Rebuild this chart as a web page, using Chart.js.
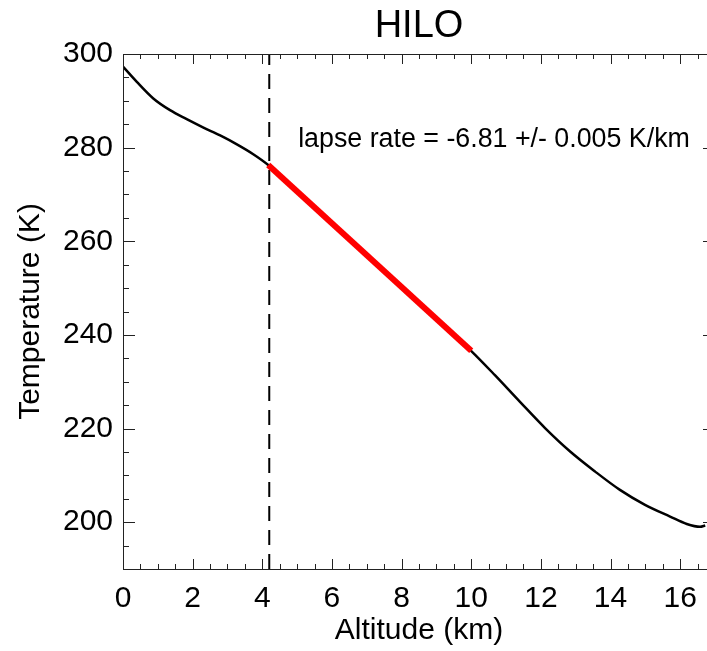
<!DOCTYPE html>
<html lang="en">
<head>
  <meta charset="UTF-8">
  <title>HILO</title>
  <script src="https://cdn.jsdelivr.net/npm/chart.js"></script>
  <style>
    html, body { margin: 0; padding: 0; background: #fff; overflow: hidden; }
    #wrap { width: 707px; height: 651px; overflow: hidden; }
  </style>
</head>
<body>
  <div id="wrap"><canvas id="hiloChart" width="730" height="651"></canvas></div>

  <script>
    // temperature profile
    const altitude = [0, 0.39, 0.87, 1.35, 1.83, 2.31, 2.79, 3.27, 3.74, 4.17, 5, 6, 7, 8, 9, 10.01,
                      10.68, 11.40, 12.12, 12.84, 13.56, 14.27, 14.99, 15.71, 16.19, 16.57, 16.72];
    const temperature = [297.3, 294.1, 290.5, 288.0, 286.1, 284.3, 282.6, 280.7, 278.6, 276.3,
                         270.65, 263.8, 257.0, 250.2, 243.4, 236.5, 231.4, 225.7, 220.1, 215.1,
                         210.8, 206.9, 203.7, 201.2, 199.6, 199.0, 199.3];

    // linear fit segment
    const fitAltitude = [4.17, 10.0];
    const fitTemperature = [276.3, 236.6];

    // vertical dashed marker
    const markerAltitude = 4.2;

    const xTicks = [0, 2, 4, 6, 8, 10, 12, 14, 16];
    const yTicks = [200, 220, 240, 260, 280, 300];

    const lapseText = 'lapse rate = -6.81 +/- 0.005 K/km';
    const lapseTextAt = [5.03, 280.1];

    const fontFamily = '"Liberation Sans", Arial, Helvetica, sans-serif';

    // box around the plot with IDL style inward ticks, plus the fit label
    const framePlugin = {
      id: 'frame',
      afterDatasetsDraw(chart) {
        const { ctx, chartArea: a, scales: { x, y } } = chart;
        ctx.save();
        ctx.strokeStyle = '#222';
        ctx.lineWidth = 1;
        ctx.strokeRect(Math.round(a.left) + 0.5, Math.round(a.top) + 0.5,
                       Math.round(a.right - a.left), Math.round(a.bottom - a.top));
        ctx.beginPath();
        for (let v = x.min; v <= x.max + 1e-9; v += 0.5) {
          const px = Math.round(x.getPixelForValue(v)) + 0.5;
          const len = v % 2 === 0 ? 10 : 5;
          ctx.moveTo(px, a.bottom); ctx.lineTo(px, a.bottom - len);
          ctx.moveTo(px, a.top); ctx.lineTo(px, a.top + len);
        }
        for (let v = y.min; v <= y.max + 1e-9; v += 5) {
          const py = Math.round(y.getPixelForValue(v)) + 0.5;
          const len = v % 20 === 0 ? 12 : 6;
          ctx.moveTo(a.left, py); ctx.lineTo(a.left + len, py);
          ctx.moveTo(a.right, py); ctx.lineTo(a.right - len, py);
        }
        ctx.stroke();

        ctx.font = '26.8px ' + fontFamily;
        ctx.fillStyle = '#000';
        ctx.textBaseline = 'alphabetic';
        ctx.textAlign = 'left';
        ctx.fillText(lapseText, x.getPixelForValue(lapseTextAt[0]), y.getPixelForValue(lapseTextAt[1]));
        ctx.restore();
      }
    };

    const profile = altitude.map((a, i) => ({ x: a, y: temperature[i] }));
    const fit = fitAltitude.map((a, i) => ({ x: a, y: fitTemperature[i] }));

    const ctx = document.getElementById('hiloChart').getContext('2d');
    new Chart(ctx, {
      type: 'line',
      data: {
        datasets: [
          {
            data: fit,
            borderColor: '#ff0000',
            borderWidth: 6,
            pointRadius: 0,
            order: 0
          },
          {
            data: [{ x: markerAltitude, y: 190 }, { x: markerAltitude, y: 300 }],
            borderColor: '#000',
            borderWidth: 2,
            borderDash: [15, 9],
            pointRadius: 0,
            order: 1
          },
          {
            data: profile,
            borderColor: '#000',
            borderWidth: 2.5,
            pointRadius: 0,
            cubicInterpolationMode: 'monotone',
            order: 2
          }
        ]
      },
      options: {
        responsive: false,
        animation: false,
        layout: { padding: { top: 0, right: 15, bottom: 0, left: 0 } },
        plugins: {
          legend: { display: false },
          tooltip: { enabled: false },
          title: {
            display: true,
            text: 'HILO',
            fullSize: false,
            color: '#000',
            font: { family: fontFamily, size: 38, weight: 'normal' },
            padding: { top: 4, bottom: 4.4 }
          }
        },
        scales: {
          x: {
            type: 'linear',
            min: 0,
            max: 17,
            grid: { display: false, drawTicks: false },
            border: { display: false },
            afterBuildTicks: (scale) => { scale.ticks = xTicks.map(v => ({ value: v })); },
            afterFit: (scale) => { scale.height = 82; },
            ticks: {
              color: '#000',
              padding: 12,
              maxRotation: 0,
              font: { family: fontFamily, size: 30 }
            },
            title: {
              display: true,
              text: 'Altitude (km)',
              color: '#000',
              font: { family: fontFamily, size: 30 },
              padding: { top: 0, bottom: 2 }
            }
          },
          y: {
            type: 'linear',
            min: 190,
            max: 300,
            grid: { display: false, drawTicks: false },
            border: { display: false },
            afterBuildTicks: (scale) => { scale.ticks = yTicks.map(v => ({ value: v })); },
            afterFit: (scale) => { scale.width = 123; },
            ticks: {
              color: '#000',
              padding: 10,
              font: { family: fontFamily, size: 30 }
            },
            title: {
              display: true,
              text: 'Temperature (K)',
              color: '#000',
              font: { family: fontFamily, size: 30 },
              padding: { top: 13, bottom: 0 }
            }
          }
        }
      },
      plugins: [framePlugin]
    });
  </script>
</body>
</html>
